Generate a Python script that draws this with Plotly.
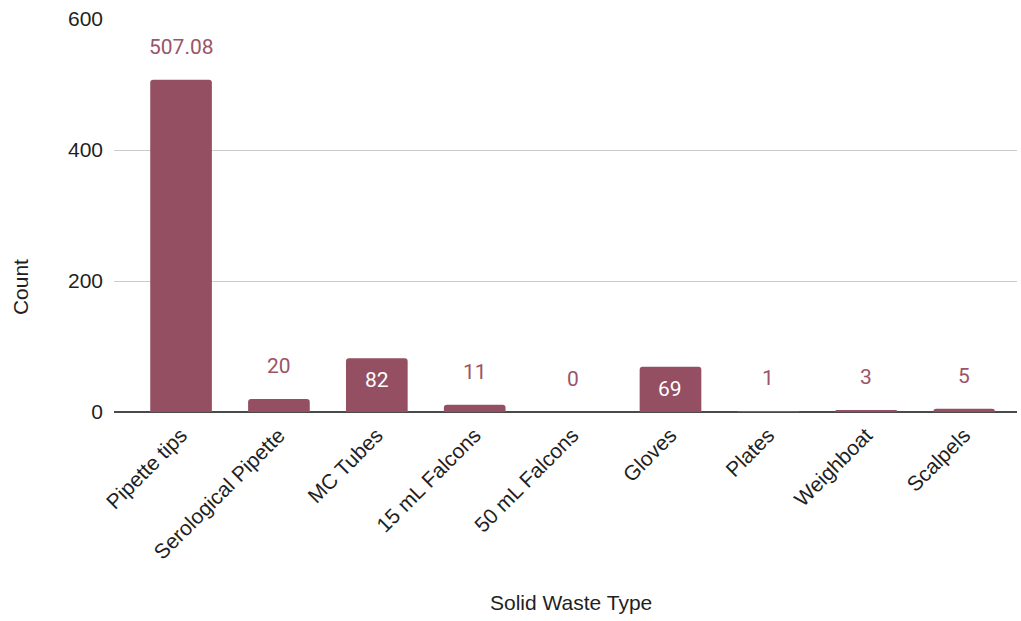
import plotly.graph_objects as go

categories = ["Pipette tips", "Serological Pipette", "MC Tubes", "15 mL Falcons",
              "50 mL Falcons", "Gloves", "Plates", "Weighboat", "Scalpels"]
counts = [507.08, 20, 82, 11, 0, 69, 1, 3, 5]
y_ticks = [0, 200, 400, 600]

BAR = "#944f62"
LABEL = "#9b5468"
TEXT = "#1f1f1f"
FS = 21

fig = go.Figure()
fig.add_trace(go.Bar(
    x=categories, y=counts, marker_color=BAR, width=0.63,
    marker_line_width=0, hoverinfo="skip",
))

# value labels: inside the bar when the text fits, otherwise above it
annotations = []
for cat, v in zip(categories, counts):
    txt = f"{v:g}"
    fits = v >= 50 and len(txt) <= 3
    annotations.append(dict(
        x=cat, y=v, text=txt, showarrow=False, yanchor="middle",
        yshift=-22 if fits else 33,
        font=dict(family="Roboto", size=FS, color="white" if fits else LABEL),
    ))

annotations.append(dict(
    text="Count", xref="paper", yref="paper", x=-0.104, y=0.318, textangle=-90,
    showarrow=False, xanchor="center", yanchor="middle",
    font=dict(family="Liberation Sans", size=FS, color=TEXT),
))
annotations.append(dict(
    text="Solid Waste Type", xref="paper", yref="paper", x=0.506, y=-0.486,
    showarrow=False, yanchor="middle",
    font=dict(family="Liberation Sans", size=FS, color=TEXT),
))

fig.update_layout(
    width=1021, height=621,
    margin=dict(l=114, r=4, t=19, b=209),
    plot_bgcolor="white", paper_bgcolor="white",
    barcornerradius=3,
    showlegend=False,
    annotations=annotations,
    font=dict(family="Liberation Sans", size=FS, color=TEXT),
)
fig.update_xaxes(
    range=[-0.685, 8.54], tickangle=-45, showgrid=False, ticks="",
    tickfont=dict(family="Liberation Sans", size=FS, color=TEXT),
    showline=False, zeroline=False, ticklabelstandoff=6,
)
fig.update_yaxes(
    range=[0, 600], tickvals=y_ticks, showgrid=True, gridcolor="#cccccc",
    gridwidth=1, zeroline=True, zerolinecolor="#4a4a4a", zerolinewidth=2,
    tickfont=dict(family="Liberation Sans", size=FS, color=TEXT),
    ticklabelstandoff=10,
)

fig.write_html("out.html")
